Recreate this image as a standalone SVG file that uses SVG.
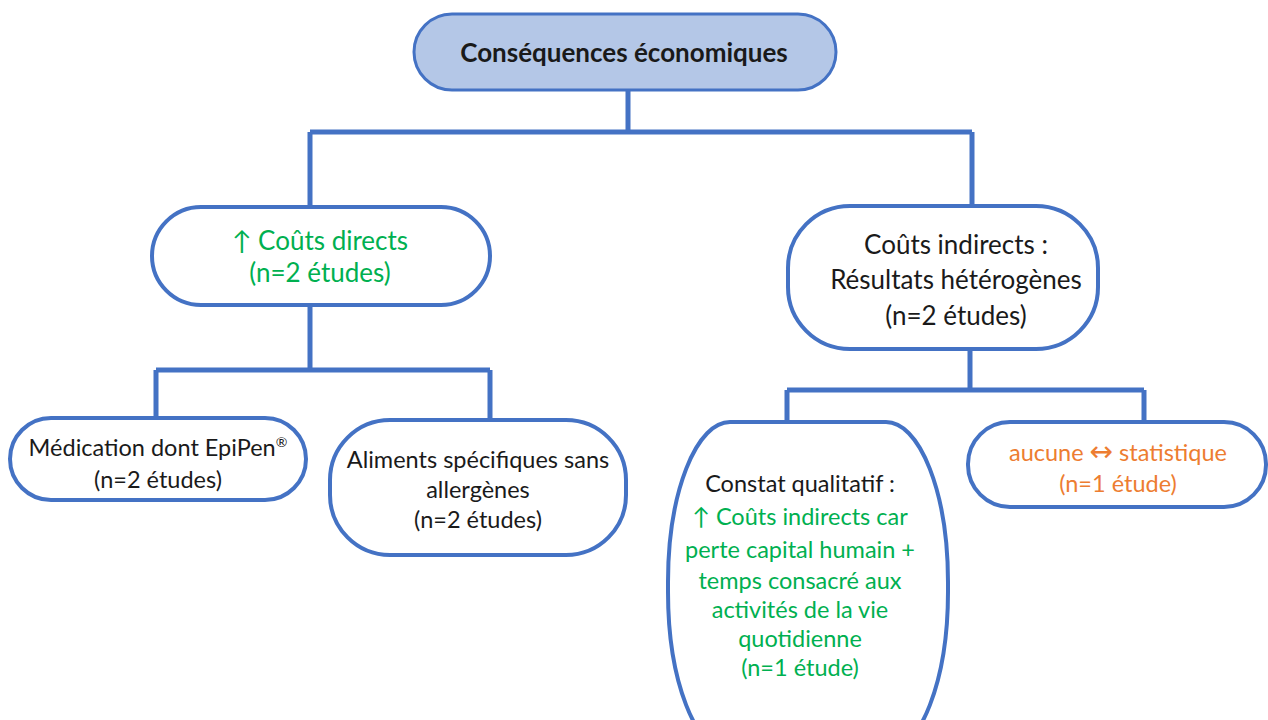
<svg xmlns="http://www.w3.org/2000/svg" width="1268" height="720" viewBox="0 0 1268 720">
<style>
.box{fill:#ffffff;stroke:#4472c4;stroke-width:4}
.conn{fill:none;stroke:#4472c4;stroke-width:5}
text{font-family:Lato,"Open Sans","Liberation Sans",sans-serif;text-anchor:middle}
.k{fill:#1a1a1a}
.g{fill:#00b050}
.o{fill:#ed7d31}
.t26{font-size:26px}
.t23{font-size:23.5px}
.arr{font-family:"DejaVu Sans",sans-serif}
</style>
<rect width="1268" height="720" fill="#ffffff"/>
<g id="connectors">
<path class="conn" d="M628 90V132M310 132H972M310 132V208M972 132V207"/>
<path class="conn" d="M310 305V370M156 370H490M156 370V418M490 370V421"/>
<path class="conn" d="M970 349V390M787 390H1144M787 390V423M1144 390V423"/>
</g>
<g id="root">
<rect x="414" y="14" width="422" height="76" rx="38" ry="38" fill="#b4c7e7" stroke="#4472c4" stroke-width="3"/>
<text x="624" y="62" class="k" font-size="26" font-weight="bold">Conséquences économiques</text>
</g>
<g id="couts-directs">
<rect class="box" x="152" y="207" width="338" height="98" rx="49"/>
<text class="g t26" x="320" y="250">↑ Coûts directs</text>
<text class="g t26" x="320" y="282">(n=2 études)</text>
</g>
<g id="couts-indirects">
<rect class="box" x="788" y="206" width="310" height="143" rx="62"/>
<text class="k t26" x="956" y="254">Coûts indirects :</text>
<text class="k t26" x="956" y="289">Résultats hétérogènes</text>
<text class="k t26" x="956" y="325">(n=2 études)</text>
</g>
<g id="medication">
<rect class="box" x="10" y="418" width="296" height="82" rx="41"/>
<text class="k t23" x="158" y="456">Médication dont EpiPen<tspan font-size="14" dy="-9">®</tspan></text>
<text class="k t23" x="158" y="488">(n=2 études)</text>
</g>
<g id="aliments">
<rect class="box" x="330" y="420" width="296" height="135" rx="60"/>
<text class="k t23" x="478" y="468">Aliments spécifiques sans</text>
<text class="k t23" x="478" y="498">allergènes</text>
<text class="k t23" x="478" y="528">(n=2 études)</text>
</g>
<g id="constat">
<rect class="box" x="668" y="422" width="280" height="330" rx="62" ry="160"/>
<text class="k t23" x="800" y="492">Constat qualitatif :</text>
<text class="g t23" x="800" y="525">↑ Coûts indirects car</text>
<text class="g t23" x="800" y="558">perte capital humain +</text>
<text class="g t23" x="800" y="589">temps consacré aux</text>
<text class="g t23" x="800" y="618">activités de la vie</text>
<text class="g t23" x="800" y="647">quotidienne</text>
<text class="g t23" x="800" y="676">(n=1 étude)</text>
</g>
<g id="aucune">
<rect class="box" x="968" y="422" width="298" height="85" rx="42"/>
<text class="o t23" x="1118" y="461">aucune <tspan class="arr" font-size="28">↔</tspan> statistique</text>
<text class="o t23" x="1118" y="492">(n=1 étude)</text>
</g>
</svg>
